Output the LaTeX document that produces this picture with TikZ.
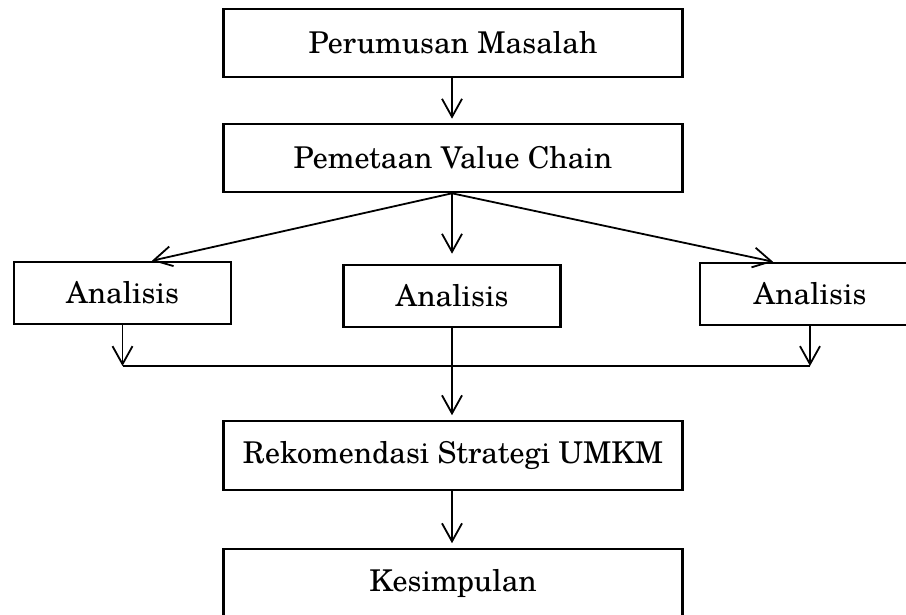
\documentclass[tikz,border=0pt]{standalone}
\usepackage{fontspec}
\setmainfont{TeX Gyre Schola}
\usetikzlibrary{arrows.meta}
\tikzset{
  box/.style={draw, line width=2.6pt, inner sep=0pt, minimum width=459pt, minimum height=68pt, font=\fontsize{30}{36}\selectfont},
  abox/.style={box, minimum width=217pt, minimum height=62pt},
  conn/.style={line width=1.8pt, -{Straight Barb[length=18pt,width=20pt,line width=1.8pt]}},
  plain/.style={line width=1.8pt}
}
\begin{document}
\begin{tikzpicture}[x=1pt,y=-1pt]
\useasboundingbox (0,0) rectangle (906,614);
\clip (0,0) rectangle (906,614);
\node[box] (p1) at (453,43) {Perumusan Masalah};
\node[box] (p2) at (453,158) {Pemetaan Value Chain};
\node[abox] (a1) at (122.5,293) {Analisis};
\node[abox] (a2) at (452,296) {Analisis};
\node[abox, minimum width=220pt] (a3) at (810,294) {Analisis};
\node[box, minimum height=69pt] (r) at (453,455.5) {Rekomendasi Strategi UMKM};
\node[box] (k) at (453,583) {Kesimpulan};
\coordinate (j1) at (122.5,366);
\coordinate (j3) at (810,366);
\draw[conn, shorten >=4pt] ([xshift=-1pt]p1.south) -- ([xshift=-1pt]p2.north);
\draw[conn] ([xshift=-1pt]p2.south) -- ([xshift=29.5pt]a1.north);
\draw[conn] ([xshift=-1pt]p2.south) -- ([yshift=10pt]a2.north);
\draw[conn] ([xshift=-1pt]p2.south) -- ([xshift=-37pt]a3.north);
\draw[conn] (a1.south) -- (j1);
\draw[conn] (a3.south) -- (j3);
\draw[plain] (j1) -- (j3);
\draw[conn, shorten >=4.5pt] (a2.south) -- (a2.south |- r.north);
\draw[conn, shorten >=4.5pt] ([xshift=-1pt]r.south) -- ([xshift=-1pt]k.north);
\end{tikzpicture}
\end{document}
